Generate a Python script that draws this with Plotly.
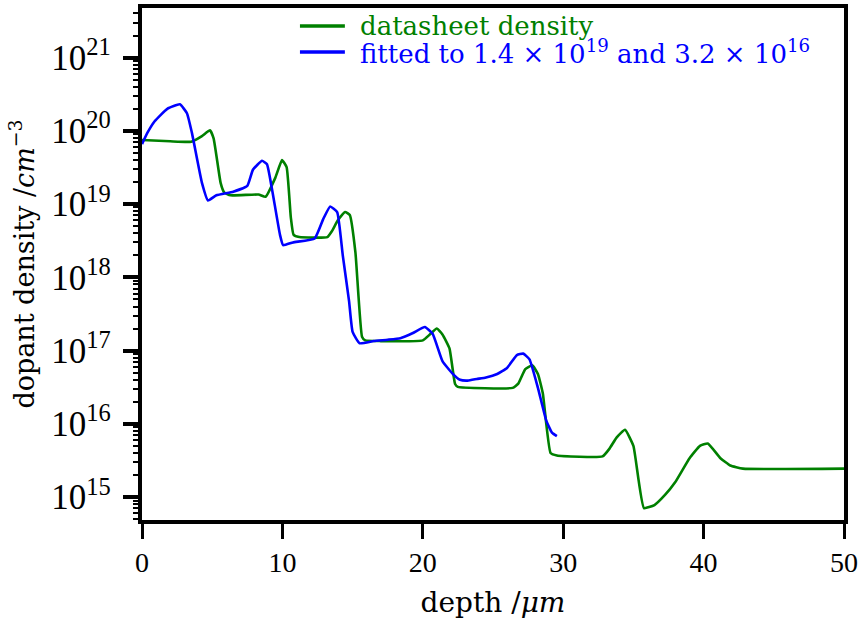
import plotly.graph_objects as go

# Datasheet doping profile: depth (um) vs dopant density (cm^-3)
sheet_depth = [0.0, 2.0, 3.5, 4.27, 4.84, 5.1, 5.6, 5.85, 6.3, 8.3, 8.8, 9.5, 9.97,
               10.3, 10.6, 10.8, 11.2, 13.2, 13.5, 13.95, 14.46, 14.8, 15.2, 15.67,
               15.9, 17.0, 20.0, 20.5, 21.0, 21.4, 21.9, 22.3, 22.5, 26.4, 26.8,
               27.3, 27.8, 28.2, 28.55, 29.1, 29.55, 32.8, 33.3, 33.8, 34.4, 35.0,
               35.75, 36.5, 37.25, 37.96, 39.0, 39.74, 40.3, 41.2, 41.9, 42.8, 50.0]
sheet_density = [7.5e19, 7.2e19, 7.1e19, 8.5e19, 1.02e20, 7.9e19, 1.95e19, 1.45e19,
                 1.32e19, 1.35e19, 1.26e19, 2.3e19, 4.0e19, 3.2e19, 6.6e18, 3.8e18,
                 3.55e18, 3.55e18, 4.2e18, 6.0e18, 7.8e18, 7.1e18, 2.2e18, 1.55e17,
                 1.38e17, 1.35e17, 1.38e17, 1.66e17, 2.0e17, 1.66e17, 1.07e17,
                 3.5e16, 3.2e16, 3.1e16, 3.55e16, 5.6e16, 6.3e16, 4.8e16, 2.6e16,
                 4.0e15, 3.7e15, 3.6e15, 4.6e15, 6.5e15, 8.3e15, 5.0e15, 7.1e14,
                 7.8e14, 1.07e15, 1.58e15, 3.4e15, 5.0e15, 5.4e15, 3.4e15, 2.7e15,
                 2.45e15, 2.45e15]

# Fitted profile
fit_depth = [0.0, 0.4, 0.9, 1.8, 2.7, 3.2, 3.56, 4.27, 4.7, 5.3, 6.5, 7.5, 7.9, 8.55,
             8.9, 9.26, 9.83, 10.05, 10.75, 12.3, 12.9, 13.4, 13.9, 14.3, 14.75,
             15.0, 15.5, 16.5, 17.5, 18.4, 19.3, 20.15, 20.7, 21.4, 22.1, 22.65,
             23.2, 23.85, 24.5, 25.3, 26.0, 26.7, 27.15, 27.6, 28.2, 28.8, 29.2, 29.55]
fit_density = [6.6e19, 9.5e19, 1.35e20, 2.0e20, 2.3e20, 1.74e20, 9.3e19, 1.95e19,
               1.12e19, 1.32e19, 1.48e19, 1.78e19, 2.95e19, 3.9e19, 3.5e19, 1.6e19,
               3.8e18, 2.75e18, 3.0e18, 3.4e18, 6.2e18, 9.3e18, 7.8e18, 2.0e18,
               4.7e17, 1.8e17, 1.26e17, 1.35e17, 1.41e17, 1.48e17, 1.74e17, 2.1e17,
               1.7e17, 7.2e16, 4.9e16, 4.0e16, 3.9e16, 4.1e16, 4.3e16, 4.8e16,
               5.8e16, 8.7e16, 9.1e16, 7.6e16, 3.1e16, 1.1e16, 7.6e15, 6.8e15]

x_ticks = [0, 10, 20, 30, 40, 50]

series_labels = ["datasheet density",
                 "fitted to 1.4 × 10<sup>19</sup> and 3.2 × 10<sup>16</sup>"]

GREEN = "#008000"
BLUE = "#0000ff"
TEXT_FONT = "DejaVu Serif, Liberation Serif, serif"
NUM_FONT = "Liberation Serif, DejaVu Serif, serif"

fig = go.Figure()
fig.add_trace(go.Scatter(
    x=sheet_depth, y=sheet_density, mode="lines", name=series_labels[0],
    line=dict(color=GREEN, width=2.6, shape="spline", smoothing=0.4)))
fig.add_trace(go.Scatter(
    x=fit_depth, y=fit_density, mode="lines", name=series_labels[1],
    line=dict(color=BLUE, width=2.6, shape="spline", smoothing=0.4)))

# Compact legend: key line + coloured label for each series
legend_rows = [(0.965, GREEN), (0.914, BLUE)]
for (row_y, col), label in zip(legend_rows, series_labels):
    fig.add_shape(type="line", xref="paper", yref="paper",
                  x0=0.225, x1=0.289, y0=row_y, y1=row_y,
                  line=dict(color=col, width=3.5))
    fig.add_annotation(xref="paper", yref="paper", x=0.3077, y=row_y,
                       xanchor="left", yanchor="middle", showarrow=False,
                       text=label, font=dict(family=TEXT_FONT, size=26, color=col))

fig.update_layout(
    width=862, height=632,
    margin=dict(l=142, r=18, t=4, b=112),
    paper_bgcolor="white", plot_bgcolor="white",
    font=dict(family=TEXT_FONT, size=26, color="black"),
    showlegend=False,
)

fig.update_xaxes(
    range=[0, 50], tickvals=x_ticks, ticktext=[str(v) for v in x_ticks],
    showline=True, linecolor="black", linewidth=3.5, mirror=True,
    ticks="outside", ticklen=15, tickwidth=3, tickcolor="black",
    tickfont=dict(family=NUM_FONT, size=28),
    showgrid=False, zeroline=False,
    title=dict(text="depth /<i>μm</i>", font=dict(family=TEXT_FONT, size=28), standoff=16),
)

fig.update_yaxes(
    type="log", range=[14.688, 21.677], dtick=1, exponentformat="power",
    showline=True, linecolor="black", linewidth=3.5, mirror=True,
    ticks="outside", ticklen=15, tickwidth=3.5, tickcolor="black",
    tickfont=dict(family=NUM_FONT, size=28), ticklabelstandoff=7,
    minor=dict(ticks="outside", ticklen=5, tickwidth=1.5, tickcolor="black",
               dtick="D1", showgrid=False),
    showgrid=False, zeroline=False,
    title=dict(text="dopant density /<i>cm</i><sup>−3</sup>",
               font=dict(family=TEXT_FONT, size=27), standoff=10),
)

fig.write_html("out.html")
